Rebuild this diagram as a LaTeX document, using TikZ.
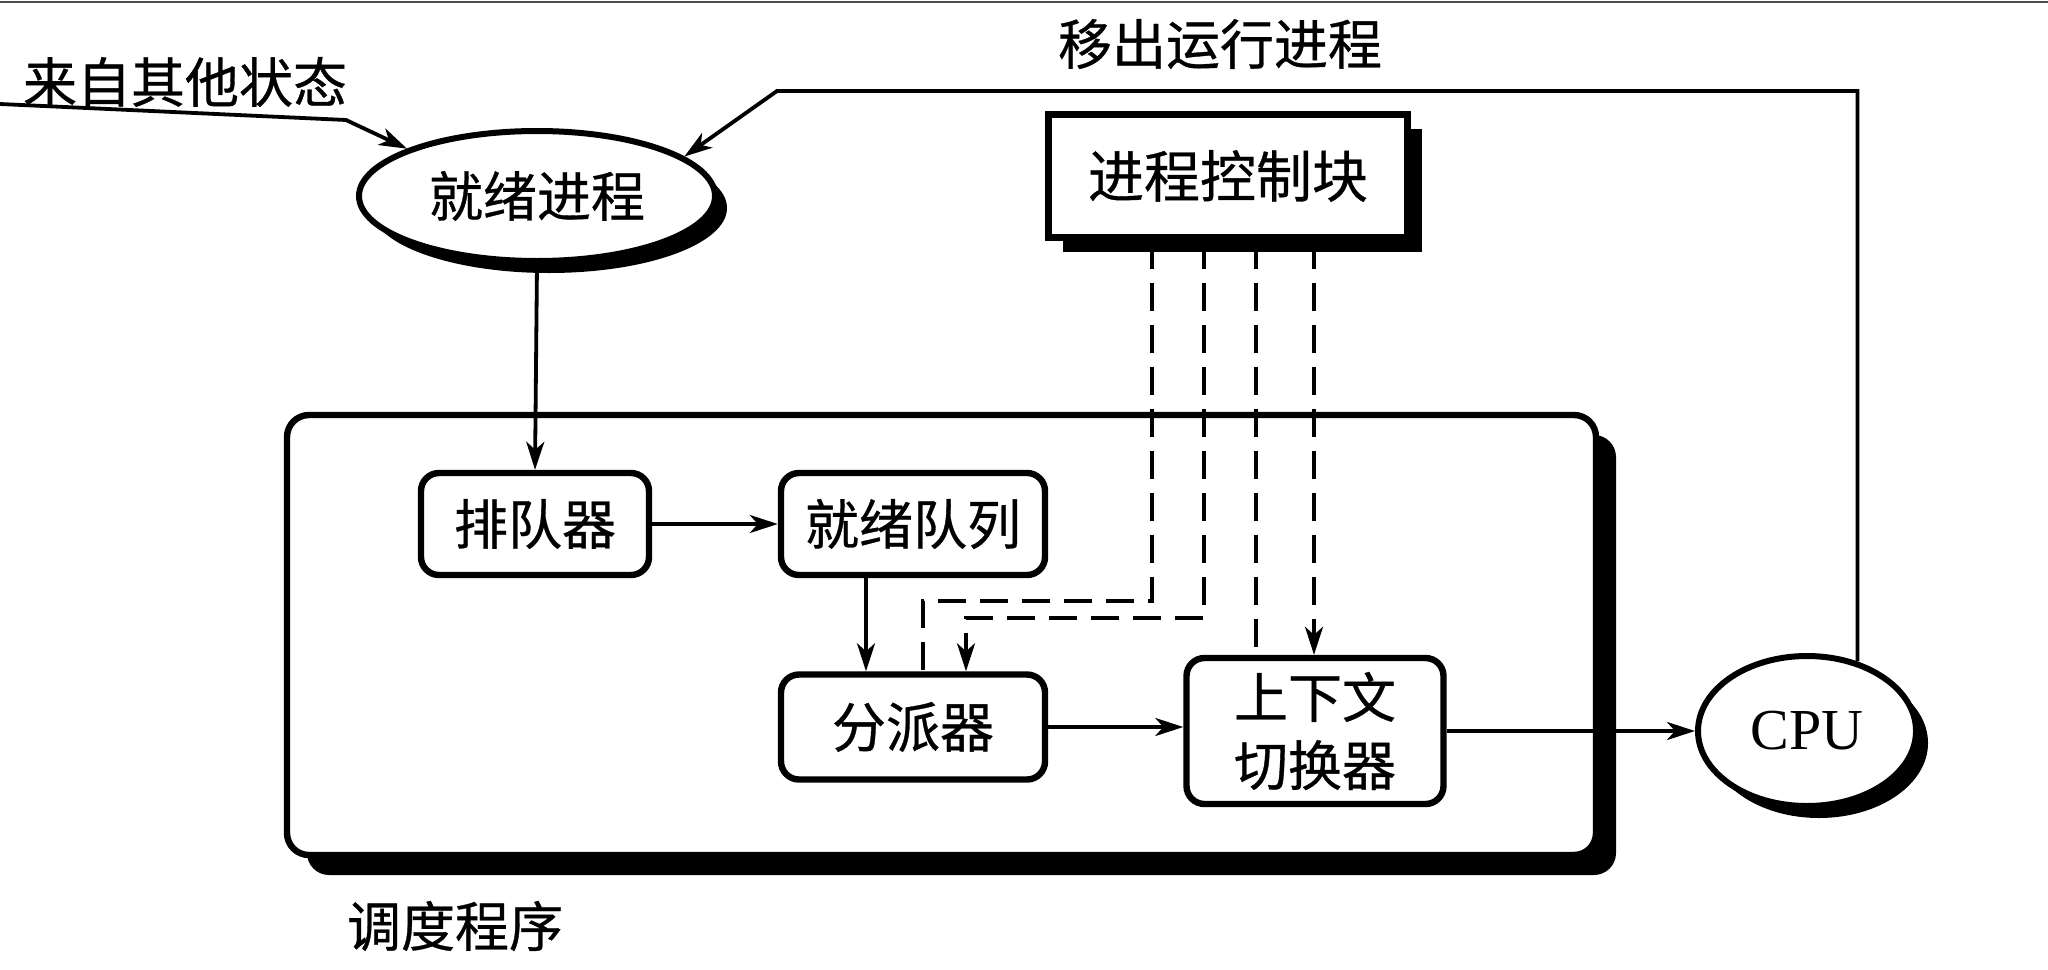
\documentclass[tikz,border=0pt]{standalone}
\usepackage{fontspec}
\setmainfont{Noto Sans CJK SC}[FakeBold=0.6]
\newfontfamily\latinfont{Liberation Serif}
\usetikzlibrary{shapes.geometric,shadows,arrows.meta}
\tikzset{
  tip/.style={-{Stealth[length=14pt,width=9pt,inset=4pt]}},
  conn/.style={line width=1.9pt},
  dline/.style={line width=1.9pt,dash pattern=on 14pt off 7pt},
  procbox/.style={draw,line width=3.2pt,rounded corners=9pt,fill=white,inner sep=0pt,font=\fontsize{27}{32}\selectfont},
  ovalnode/.style={ellipse,draw,line width=3pt,fill=white,inner sep=0pt,
     drop shadow={shadow xshift=6pt,shadow yshift=-6pt,fill=black,opacity=1}},
  lbl/.style={inner sep=0pt,font=\fontsize{27}{32}\selectfont},
}
\begin{document}
\begin{tikzpicture}[x=0.5pt,y=-0.5pt]
\useasboundingbox (0,0) rectangle (2048,969);
\fill[white] (0,0) rectangle (2048,969);
% scan edge at the top
\coordinate (e0) at (0,2);
\coordinate (e1) at (2048,2);
\draw[line width=1pt,black!70] (e0) -- (e1);

% container
\node[draw,line width=3.2pt,rounded corners=11pt,fill=white,minimum width=654.5pt,minimum height=220pt,
      drop shadow={shadow xshift=10pt,shadow yshift=-10pt,fill=black,opacity=1}] (sched) at (941.5,635) {};
\node[lbl] (schedlbl) at (455,926) {调度程序};

% top labels
\node[lbl] (fromother) at (185,82) {来自其他状态};
\node[lbl] (moveout) at (1220,44) {移出运行进程};

% ellipses
\node[ovalnode,minimum width=178pt,minimum height=65pt,font=\fontsize{27}{32}\selectfont] (rp) at (537,196) {就绪进程};
\node[ovalnode,minimum width=109pt,minimum height=75pt,font=\latinfont\fontsize{29}{32}\selectfont] (cpu) at (1807,731) {CPU};

% PCB
\node[draw,line width=3.2pt,fill=white,minimum width=179.5pt,minimum height=61.5pt,inner sep=0pt,
      font=\fontsize{28}{32}\selectfont,
      drop shadow={shadow xshift=7pt,shadow yshift=-7pt,fill=black,opacity=1}] (pcb) at (1228,176) {进程控制块};

% inner boxes
\node[procbox,minimum width=114pt,minimum height=51pt] (enq) at (535,524) {排队器};
\node[procbox,minimum width=132pt,minimum height=51pt] (rq) at (913,524) {就绪队列};
\node[procbox,minimum width=132pt,minimum height=52.5pt] (disp) at (913,727) {分派器};
\node[procbox,minimum width=128.5pt,minimum height=73pt,align=center,font=\fontsize{27}{34}\selectfont] (ctx) at (1315,731) {上下文\\切换器};

% coordinates
\coordinate (in0) at (0,104);
\coordinate (in1) at (346,120);
\coordinate (fb1) at (777,91);
\coordinate (sA) at (866,600);
\coordinate (dA) at (1152,601);
\coordinate (dA2) at (923,601);
\coordinate (dB) at (1204,618);
\coordinate (dB2) at (966,618);
\coordinate (dC) at (1256,400);
\coordinate (dD) at (1314,400);

% solid connectors
\draw[conn,tip] (in0) -- (in1) -- (rp.160);
\draw[conn,tip] (cpu.54) |- (fb1) -- (rp.15);
\draw[conn,tip] (rp.south) -- (enq.north);
\draw[conn,tip] (enq.east) -- (rq.west);
\draw[conn,tip] (rq.south -| sA) -- (disp.north -| sA);
\draw[conn,tip] (disp.east) -- (disp.east -| ctx.west);
\draw[conn,tip] (ctx.east) -- (cpu.west);

% dashed connectors
\draw[dline] (pcb.south -| dA) -- (dA) -- (dA2) -- (dA2 |- disp.north);
\draw[dline,tip] (pcb.south -| dB) -- (dB) -- (dB2) -- (dB2 |- disp.north);
\draw[dline] (pcb.south -| dC) -- (ctx.north -| dC);
\draw[dline,tip] (pcb.south -| dD) -- (ctx.north -| dD);
\end{tikzpicture}
\end{document}
